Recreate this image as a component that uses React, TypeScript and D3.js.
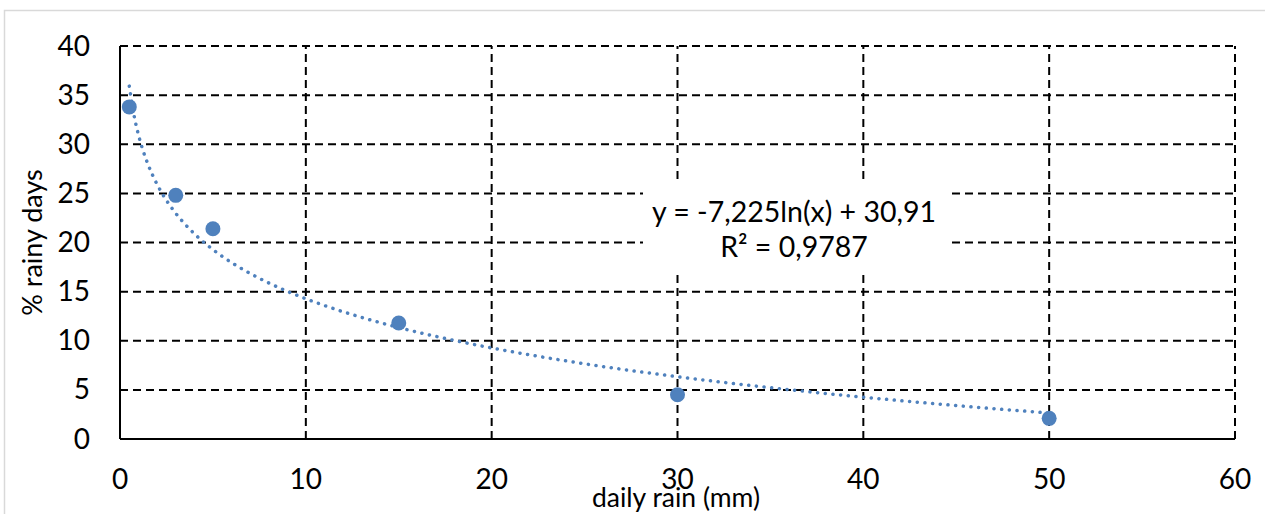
import React, { useEffect, useRef } from "react";
import * as d3 from "d3";

// daily rain threshold (mm) and share of rainy days (%)
const rainMm = [0.5, 3, 5, 15, 30, 50];
const rainyPct = [33.8, 24.8, 21.4, 11.8, 4.5, 2.1];

// trendline as given by the spreadsheet: y = a*ln(x) + b
const trendA = -7.225;
const trendB = 30.91;
const trendLabel = ["y = -7,225ln(x) + 30,91", "R² = 0,9787"];

const xTicks = [0, 10, 20, 30, 40, 50, 60];
const yTicks = [0, 5, 10, 15, 20, 25, 30, 35, 40];

const FONT = "Lato, 'Open Sans', sans-serif";

const App = () => {
    const svgRef = useRef<SVGSVGElement>(null);

    useEffect(() => {
        const svg = d3.select(svgRef.current);
        svg.selectAll("*").remove();

        const width = 1265;
        const height = 514;

        const x = d3.scaleLinear().domain([0, 60]).range([120, 1235]);
        const y = d3.scaleLinear().domain([0, 40]).range([439, 46]);

        // outer chart frame
        svg
            .append("rect")
            .attr("x", 4.5)
            .attr("y", 10.5)
            .attr("width", width + 20)
            .attr("height", height + 20)
            .attr("fill", "white")
            .attr("stroke", "#d9d9d9")
            .attr("stroke-width", 1.5);

        // dashed gridlines
        const grid = svg.append("g").attr("stroke", "black").attr("stroke-width", 2).attr("stroke-dasharray", "8 5");
        grid
            .selectAll(".hgrid")
            .data(yTicks.slice(1))
            .join("line")
            .attr("x1", x(0))
            .attr("x2", x(60))
            .attr("y1", (d) => y(d))
            .attr("y2", (d) => y(d));
        grid
            .selectAll(".vgrid")
            .data(xTicks.slice(1))
            .join("line")
            .attr("x1", (d) => x(d))
            .attr("x2", (d) => x(d))
            .attr("y1", y(0))
            .attr("y2", y(40));

        // solid axes
        svg
            .append("line")
            .attr("x1", x(0))
            .attr("x2", x(60))
            .attr("y1", y(0))
            .attr("y2", y(0))
            .attr("stroke", "black")
            .attr("stroke-width", 2);
        svg
            .append("line")
            .attr("x1", x(0))
            .attr("x2", x(0))
            .attr("y1", y(0))
            .attr("y2", y(40))
            .attr("stroke", "black")
            .attr("stroke-width", 2);

        // tick labels
        svg
            .selectAll(".ylab")
            .data(yTicks)
            .join("text")
            .attr("x", 90)
            .attr("y", (d) => y(d) + 9.5)
            .attr("text-anchor", "end")
            .attr("font-family", FONT)
            .attr("font-size", 28)
            .attr("fill", "black")
            .text((d) => d);
        svg
            .selectAll(".xlab")
            .data(xTicks)
            .join("text")
            .attr("x", (d) => x(d))
            .attr("y", 489)
            .attr("text-anchor", "middle")
            .attr("font-family", FONT)
            .attr("font-size", 28)
            .attr("fill", "black")
            .text((d) => d);

        // axis titles
        svg
            .append("text")
            .attr("x", 676)
            .attr("y", 507)
            .attr("text-anchor", "middle")
            .attr("font-family", FONT)
            .attr("font-size", 26.5)
            .text("daily rain (mm)");
        svg
            .append("text")
            .attr("transform", `translate(42, ${y(20)}) rotate(-90)`)
            .attr("text-anchor", "middle")
            .attr("font-family", FONT)
            .attr("font-size", 27)
            .text("% rainy days");

        // trendline (dotted)
        const xs = d3.range(0.5, 50.01, 0.25);
        const line = d3
            .line<number>()
            .x((d) => x(d))
            .y((d) => y(trendA * Math.log(d) + trendB))
            .curve(d3.curveMonotoneX);
        svg
            .append("path")
            .attr("d", line(xs))
            .attr("fill", "none")
            .attr("stroke", "#4f81bd")
            .attr("stroke-width", 3.5)
            .attr("stroke-linecap", "round")
            .attr("stroke-dasharray", "0.1 7.6");

        // data points
        svg
            .selectAll(".pt")
            .data(rainMm)
            .join("circle")
            .attr("cx", (d) => x(d))
            .attr("cy", (d, i) => y(rainyPct[i]))
            .attr("r", 7.5)
            .attr("fill", "#4f81bd");

        // trendline label with white backing
        svg
            .append("rect")
            .attr("x", 643)
            .attr("y", 180)
            .attr("width", 305)
            .attr("height", 90)
            .attr("fill", "white");
        svg
            .selectAll(".eq")
            .data(trendLabel)
            .join("text")
            .attr("x", 794)
            .attr("y", (d, i) => 222 + i * 35)
            .attr("text-anchor", "middle")
            .attr("font-family", FONT)
            .attr("font-size", 28.5)
            .attr("fill", "black")
            .text((d) => d);
    }, []);

    return (
        <svg
            ref={svgRef}
            width={1265}
            height={514}
            style={{ position: "fixed", left: 0, top: 0, display: "block" }}
        ></svg>
    );
};

export default App;
